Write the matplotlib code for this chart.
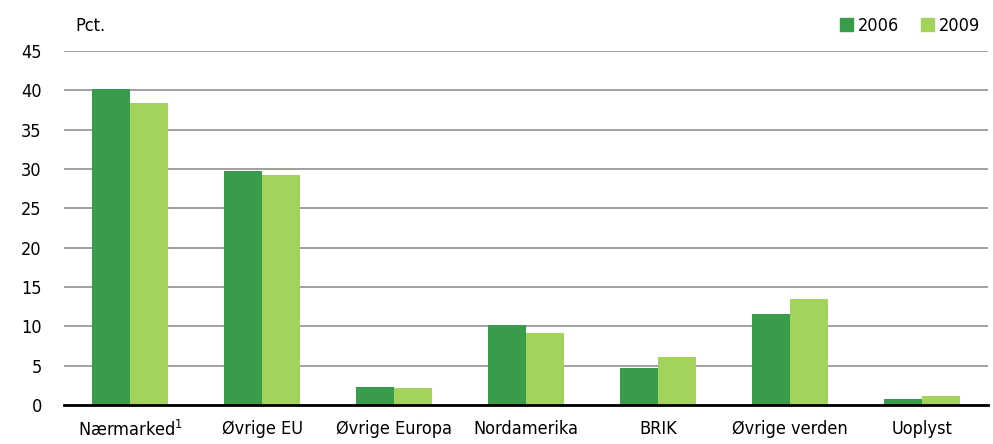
import numpy as np
import matplotlib.pyplot as plt
from matplotlib.patches import Patch

categories = ["Nærmarked$^1$", "Øvrige EU", "Øvrige Europa", "Nordamerika", "BRIK", "Øvrige verden", "Uoplyst"]
values_2006 = [40.2, 29.7, 2.3, 10.2, 4.7, 11.6, 0.8]
values_2009 = [38.4, 29.2, 2.1, 9.2, 6.1, 13.5, 1.1]
yticks = [0, 5, 10, 15, 20, 25, 30, 35, 40, 45]

plt.rcParams['font.family'] = ['DejaVu Sans']
plt.rcParams['font.stretch'] = 'condensed'
plt.rcParams['mathtext.fontset'] = 'custom'
plt.rcParams['mathtext.rm'] = 'DejaVu Sans:stretch=condensed'

dark = '#389c4a'
light = '#a3d35a'

fig = plt.figure(figsize=(9.93, 4.44), dpi=100)
ax = fig.add_axes([64 / 993, 39 / 444, 924 / 993, 354 / 444])

x = np.arange(len(categories))
w = 0.285
ax.bar(x - w / 2, values_2006, w, color=dark, label='2006', zorder=3)
ax.bar(x + w / 2, values_2009, w, color=light, label='2009', zorder=3)

ax.set_xlim(-0.5, len(categories) - 0.5)
ax.set_ylim(0, 45)
ax.set_yticks(yticks)
ax.set_xticks(x)
ax.set_xticklabels(categories)
ax.tick_params(axis='both', length=0, labelsize=13)
ax.tick_params(axis='x', pad=11)
ax.tick_params(axis='y', pad=16)

ax.grid(axis='y', color='#a0a0a0', linewidth=1.4, zorder=0)
for s in ['top', 'right', 'left']:
    ax.spines[s].set_visible(False)
ax.spines['bottom'].set_color('black')
ax.spines['bottom'].set_linewidth(2)
ax.spines['bottom'].set_zorder(4)

fig.text(75 / 993, 1 - 26 / 444, 'Pct.', fontsize=13, va='center', ha='left')

handles = [Patch(color=dark, label='2006'), Patch(color=light, label='2009')]
fig.legend(handles=handles, loc='center right', bbox_to_anchor=(1.0, 1 - 26 / 444), ncol=2,
           frameon=False, fontsize=13, handlelength=0.7, handleheight=0.7,
           handletextpad=0.3, columnspacing=1.2, borderaxespad=0.3)

fig.savefig('out.png', dpi=100)
